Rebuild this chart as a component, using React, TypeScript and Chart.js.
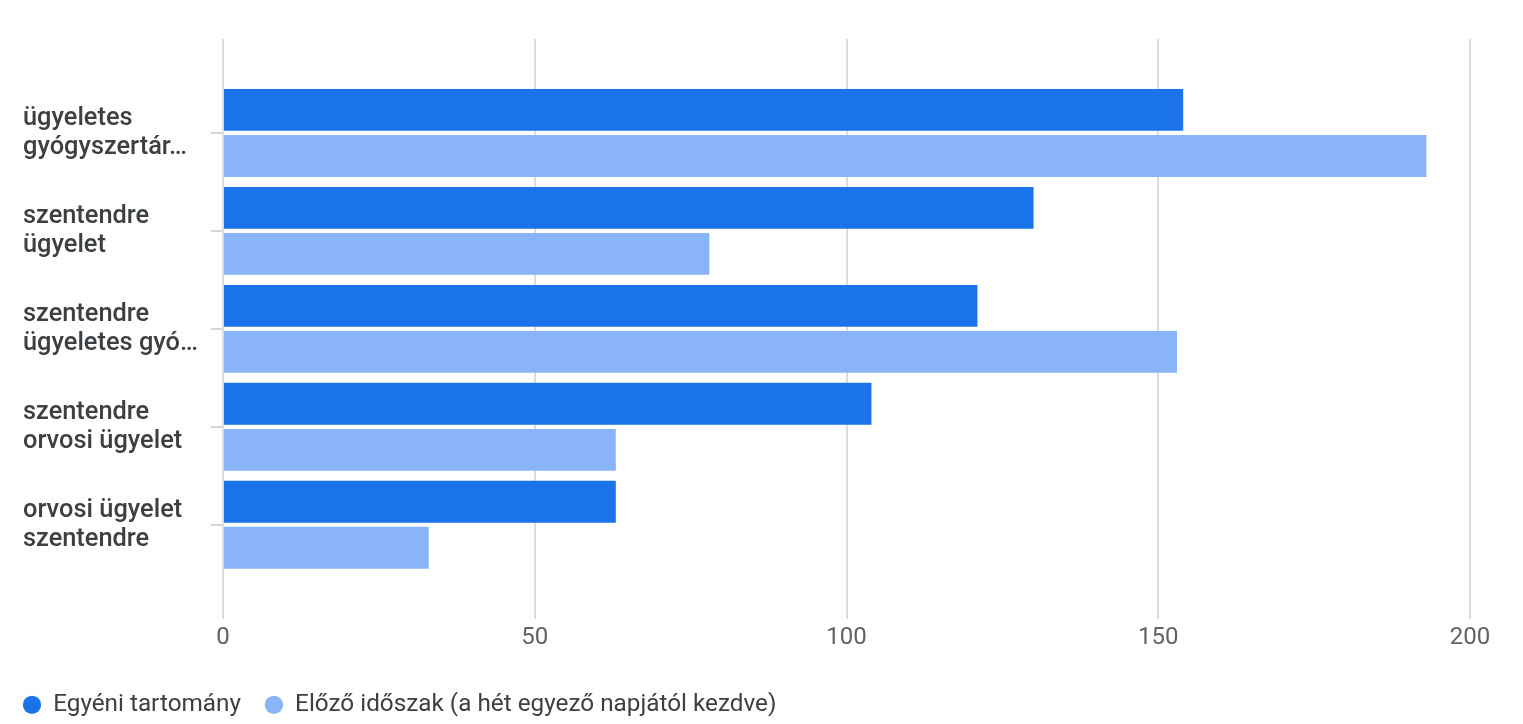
import React, { useEffect, useRef } from "react";
import { Chart, registerables } from "chart.js";

Chart.register(...registerables);

const categories: string[][] = [
  ["ügyeletes", "gyógyszertár…"],
  ["szentendre", "ügyelet"],
  ["szentendre", "ügyeletes gyó…"],
  ["szentendre", "orvosi ügyelet"],
  ["orvosi ügyelet", "szentendre"],
];
const currentValues = [154, 130, 121, 104, 63];
const previousValues = [193, 78, 153, 63, 33];
const seriesNames = ["Egyéni tartomány", "Előző időszak (a hét egyező napjától kezdve)"];
const xTickValues = [0, 50, 100, 150, 200];

const LEGEND_PAD = 24;

const shiftLegend = {
  id: "shiftLegend",
  afterLayout(chart: any) {
    if (chart.legend) {
      chart.legend.left -= LEGEND_PAD;
      chart.legend.right -= LEGEND_PAD;
      chart.legend.top += 3;
      chart.legend.bottom += 3;
    }
  },
};

export default function App() {
  const canvasRef = useRef<HTMLCanvasElement | null>(null);

  useEffect(() => {
    if (!canvasRef.current) return;
    const chart = new Chart(canvasRef.current, {
      type: "bar",
      data: {
        datasets: [
          {
            label: seriesNames[0],
            data: currentValues.map((v, i) => ({ x: v, y: i })),
            backgroundColor: "#1a73e8",
            borderWidth: 0,
            categoryPercentage: 0.94,
            barPercentage: 0.91,
          },
          {
            label: seriesNames[1],
            data: previousValues.map((v, i) => ({ x: v, y: i })),
            backgroundColor: "#8ab4f8",
            borderWidth: 0,
            categoryPercentage: 0.94,
            barPercentage: 0.91,
          },
        ],
      } as any,
      options: {
        indexAxis: "y",
        animation: false,
        responsive: true,
        maintainAspectRatio: false,
        layout: { padding: { left: 23, right: 53, top: 39, bottom: 0 } },
        scales: {
          y: {
            type: "linear",
            reverse: true,
            offset: false,
            min: -0.959,
            max: 4.959,
            afterBuildTicks: (axis: any) => {
              axis.ticks = categories.map((_, i) => ({ value: i }));
            },
            afterFit: (axis: any) => {
              axis.width = 200;
            },
            border: { display: false },
            grid: {
              offset: false,
              drawOnChartArea: false,
              drawTicks: true,
              tickLength: 12,
              color: "#d5d5d5",
              lineWidth: 2,
            },
            ticks: {
              autoSkip: false,
              crossAlign: "far",
              color: "#3c4043",
              font: { family: "Roboto", size: 25.4, weight: 500, lineHeight: 1.14 },
              callback: (value: any) => categories[value as number] ?? "",
            },
          },
          x: {
            type: "linear",
            position: "bottom",
            min: 0,
            max: 200,
            afterBuildTicks: (axis: any) => {
              axis.ticks = xTickValues.map((v) => ({ value: v }));
            },
            afterFit: (axis: any) => {
              axis.height = 47;
            },
            border: { display: false },
            grid: { color: "#dadce0", lineWidth: 2, drawTicks: false },
            ticks: {
              padding: 5,
              color: "#5f6368",
              font: { family: "Roboto", size: 24 },
            },
          },
        },
        plugins: {
          title: { display: false },
          tooltip: { enabled: false },
          legend: {
            position: "bottom",
            align: "start",
            labels: {
              usePointStyle: true,
              pointStyle: "circle",
              boxWidth: 18,
              boxHeight: 13,
              padding: LEGEND_PAD,
              color: "#3c4043",
              font: { family: "Roboto", size: 24.3 },
            },
          },
        },
      } as any,
      plugins: [shiftLegend],
    });
    return () => chart.destroy();
  }, []);

  return (
    <div style={{ position: "fixed", left: 0, top: 0, width: 1523, height: 724, background: "#fff" }}>
      <canvas ref={canvasRef} />
    </div>
  );
}
